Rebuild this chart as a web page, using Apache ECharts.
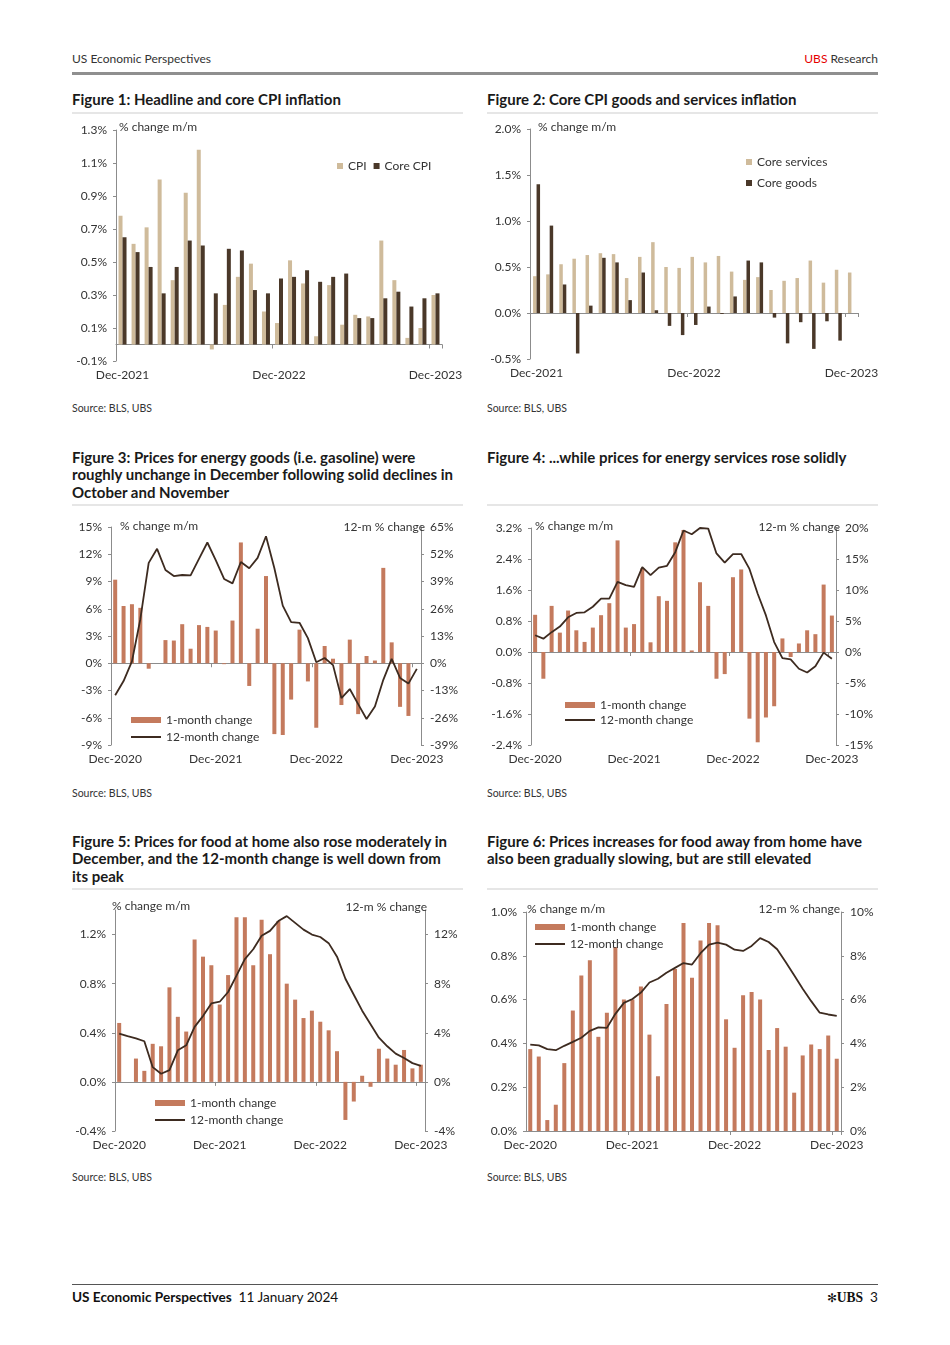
<!DOCTYPE html>
<html>
<head>
<meta charset="utf-8">
<script src="https://cdn.jsdelivr.net/npm/echarts@6/dist/echarts.min.js"></script>
<style>
  html, body { margin:0; padding:0; background:#fff; }
  body { width:950px; height:1345px; position:relative; font-family:Lato, 'Noto Sans', sans-serif; color:#222; overflow:hidden; }
  .abs { position:absolute; }
  .hdr { font-size:12px; line-height:16px; color:#333; }
  .title { font-weight:bold; font-size:15px; line-height:17.3px; color:#1a1a1a; width:400px; white-space:nowrap; }
  .uline { height:2px; background:#e6e6e6; width:391px; }
  .src { font-size:10.5px; line-height:14px; color:#333; }
  .chart { width:410px; }
</style>
</head>
<body>
<div class="abs hdr" style="left:72px;top:51px;">US Economic Perspectives</div>
<div class="abs hdr" style="right:72px;top:51px;"><span style="color:#e60000">UBS</span> Research</div>
<div class="abs" style="left:72px;top:72px;width:806px;height:3px;background:#8f8f8f;"></div>

<div class="abs title" style="left:72px;top:91px;">Figure 1: Headline and core CPI inflation</div>
<div class="abs title" style="left:487px;top:91px;">Figure 2: Core CPI goods and services inflation</div>
<div class="abs uline" style="left:72px;top:112px;"></div>
<div class="abs uline" style="left:487px;top:112px;"></div>
<div id="c1" class="abs chart" style="left:60px;top:115px;height:280px;"></div>
<div id="c2" class="abs chart" style="left:475px;top:115px;height:280px;"></div>
<div class="abs src" style="left:72px;top:401px;">Source: BLS, UBS</div>
<div class="abs src" style="left:487px;top:401px;">Source: BLS, UBS</div>

<div class="abs title" style="left:72px;top:449px;">Figure 3: Prices for energy goods (i.e. gasoline) were<br>roughly unchange in December following solid declines in<br>October and November</div>
<div class="abs title" style="left:487px;top:449px;">Figure 4: ...while prices for energy services rose solidly</div>
<div class="abs uline" style="left:72px;top:504px;"></div>
<div class="abs uline" style="left:487px;top:504px;"></div>
<div id="c3" class="abs chart" style="left:60px;top:515px;height:260px;"></div>
<div id="c4" class="abs chart" style="left:475px;top:515px;height:260px;"></div>
<div class="abs src" style="left:72px;top:786px;">Source: BLS, UBS</div>
<div class="abs src" style="left:487px;top:786px;">Source: BLS, UBS</div>

<div class="abs title" style="left:72px;top:833px;">Figure 5: Prices for food at home also rose moderately in<br>December, and the 12-month change is well down from<br>its peak</div>
<div class="abs title" style="left:487px;top:833px;">Figure 6: Prices increases for food away from home have<br>also been gradually slowing, but are still elevated</div>
<div class="abs uline" style="left:72px;top:888px;"></div>
<div class="abs uline" style="left:487px;top:888px;"></div>
<div id="c5" class="abs chart" style="left:60px;top:895px;height:260px;"></div>
<div id="c6" class="abs chart" style="left:475px;top:895px;height:260px;"></div>
<div class="abs src" style="left:72px;top:1170px;">Source: BLS, UBS</div>
<div class="abs src" style="left:487px;top:1170px;">Source: BLS, UBS</div>

<div class="abs" style="left:72px;top:1284px;width:806px;height:1px;background:#555;"></div>
<div class="abs" style="left:72px;top:1289px;font-size:13.6px;line-height:16px;color:#111;"><b>US Economic Perspectives</b>&nbsp; 11 January 2024</div>
<div class="abs" style="right:72px;top:1289px;font-size:13.6px;line-height:16px;color:#111;"><span style="font-size:12px;">&#10043;</span><span style="font-family:'Liberation Serif',serif;font-weight:bold;">UBS</span>&nbsp; 3</div>

<script>
// ---------- DATA ----------
const months2021_2023 = ['Dec-2021','Jan-2022','Feb-2022','Mar-2022','Apr-2022','May-2022','Jun-2022','Jul-2022','Aug-2022','Sep-2022','Oct-2022','Nov-2022','Dec-2022','Jan-2023','Feb-2023','Mar-2023','Apr-2023','May-2023','Jun-2023','Jul-2023','Aug-2023','Sep-2023','Oct-2023','Nov-2023','Dec-2023'];
const months2020_2023 = ['Dec-2020','Jan-2021','Feb-2021','Mar-2021','Apr-2021','May-2021','Jun-2021','Jul-2021','Aug-2021','Sep-2021','Oct-2021','Nov-2021','Dec-2021','Jan-2022','Feb-2022','Mar-2022','Apr-2022','May-2022','Jun-2022','Jul-2022','Aug-2022','Sep-2022','Oct-2022','Nov-2022','Dec-2022','Jan-2023','Feb-2023','Mar-2023','Apr-2023','May-2023','Jun-2023','Jul-2023','Aug-2023','Sep-2023','Oct-2023','Nov-2023','Dec-2023'];

// Figure 1 (% m/m)
const fig1CPI  = [0.78,0.61,0.71,1.00,0.39,0.92,1.18,-0.03,0.24,0.41,0.49,0.20,0.13,0.51,0.37,0.05,0.36,0.12,0.18,0.17,0.63,0.39,0.04,0.10,0.30];
const fig1Core = [0.65,0.56,0.47,0.31,0.47,0.63,0.60,0.31,0.58,0.57,0.33,0.31,0.40,0.41,0.45,0.38,0.41,0.43,0.16,0.16,0.28,0.32,0.23,0.28,0.31];
// Figure 2 (% m/m)
const fig2Services = [0.40,0.42,0.53,0.59,0.63,0.65,0.64,0.38,0.61,0.77,0.50,0.49,0.61,0.55,0.62,0.45,0.36,0.39,0.25,0.35,0.38,0.57,0.33,0.47,0.44];
const fig2Goods    = [1.40,0.95,0.31,-0.44,0.08,0.60,0.55,0.14,0.44,0.03,-0.14,-0.24,-0.13,0.07,-0.01,0.18,0.57,0.55,-0.05,-0.33,-0.10,-0.39,-0.09,-0.30,0.00];
// Figure 3 energy goods
const fig3Month = [9.2,6.3,6.5,6.1,-0.6,0.0,2.55,2.5,4.3,1.6,4.2,4.0,3.6,-0.1,4.7,13.3,-2.5,3.8,9.6,-7.8,-7.9,-4.0,3.7,-2.0,-7.1,1.9,0.5,-4.6,2.6,-5.6,0.8,0.3,10.5,2.3,-4.8,-5.8,0.0];
const fig3Year  = [-15.3,-8.5,0.9,21.0,47.9,54.6,44.5,41.6,42.1,41.9,49.8,57.6,49.2,40.2,38.1,48.3,45.3,50.3,60.6,45.3,27.5,19.6,19.3,12.0,0.5,2.5,-0.9,-16.6,-12.3,-19.5,-26.6,-20.6,-7.9,2.1,-7.0,-9.7,-2.7];
// Figure 4 energy services
const fig4Month = [0.96,-0.69,1.19,0.50,1.07,0.56,0.26,0.63,0.95,1.26,2.88,0.63,0.72,2.16,0.25,1.44,1.32,2.83,3.15,0.04,1.80,1.19,-0.69,-0.57,1.93,2.13,-1.72,-2.33,-1.69,-1.40,0.35,-0.13,0.22,0.56,0.46,1.74,0.94];
const fig4Year  = [2.7,2.15,3.2,4.1,5.6,6.3,6.4,7.3,8.6,8.6,11.3,10.8,10.5,13.7,12.4,13.6,13.9,16.1,19.6,19.0,20.0,19.9,15.9,14.4,15.8,15.8,13.4,9.4,5.9,1.6,-1.0,-1.2,-2.7,-3.3,-2.3,-0.1,-1.1];
// Figure 5 food at home
const fig5Month = [0.48,0.00,0.19,0.09,0.31,0.29,0.77,0.53,0.41,1.16,1.02,0.95,0.63,0.87,1.34,1.34,0.95,1.32,1.04,1.31,0.80,0.67,0.52,0.58,0.49,0.42,0.25,-0.31,-0.16,0.05,-0.04,0.27,0.19,0.14,0.26,0.11,0.14];
const fig5Year  = [3.93,3.72,3.55,3.31,1.20,0.66,0.96,2.57,2.98,4.48,5.36,6.39,6.53,7.32,8.66,10.0,10.8,11.9,12.3,13.1,13.5,12.95,12.4,12.0,11.8,11.3,10.2,8.4,7.1,5.8,4.7,3.6,2.9,2.3,1.94,1.53,1.31];
// Figure 6 food away from home
const fig6Month = [0.374,0.34,0.05,0.12,0.31,0.55,0.71,0.78,0.43,0.54,0.84,0.60,0.60,0.66,0.44,0.25,0.58,0.74,0.95,0.70,0.87,0.95,0.94,0.51,0.38,0.62,0.635,0.60,0.37,0.47,0.385,0.175,0.345,0.395,0.374,0.436,0.33];
const fig6Year  = [3.94,3.91,3.74,3.69,3.89,4.07,4.26,4.57,4.73,4.71,5.35,5.85,6.03,6.32,6.78,6.95,7.23,7.45,7.67,7.60,8.12,8.51,8.60,8.51,8.28,8.22,8.45,8.81,8.63,8.30,7.72,7.11,6.50,5.93,5.40,5.32,5.26];

// ---------- STYLE ----------
const FONT = 'Lato';
const TXT = '#333333';
const AX = '#8c8c8c';
const TAN = '#cfbb9b';
const DARK = '#4a3829';
const TERRA = '#c47a5d';
const LINE = '#3d2b20';

function fmt1(v){ return (Math.round(v*10)/10).toFixed(1) + '%'; }
function fmt0(v){ return Math.round(v) + '%'; }

function xAxes(cats){
  const lab = (i) => i % 12 === 0;
  return [
    { type:'category', data:cats, position:'bottom', boundaryGap:true,
      axisLine:{show:false, onZero:false}, axisTick:{show:false}, splitLine:{show:false},
      axisLabel:{interval:lab, color:TXT, fontSize:12, fontFamily:FONT, margin:8, hideOverlap:false} },
    { type:'category', data:cats, position:'bottom', boundaryGap:true,
      axisLine:{show:true, onZero:true, onZeroAxisIndex:0, lineStyle:{color:AX, width:1}},
      axisTick:{show:true, interval:(i)=> i % 12 === 0 && i > 0, length:4, lineStyle:{color:AX}},
      axisLabel:{show:false}, splitLine:{show:false} }
  ];
}
function yAxis(min, max, interval, fmt, pos, extra){
  return Object.assign({ type:'value', min, max, interval, position:pos,
    axisLine:{show:true, lineStyle:{color:AX}}, axisTick:{show:true, length:3, lineStyle:{color:AX}},
    splitLine:{show:false},
    axisLabel:{formatter:fmt, color:TXT, fontSize:12, fontFamily:FONT, margin:9} }, extra || {});
}
function txt(t, pos){
  return Object.assign({ type:'text', z:10, style:{ text:t, fill:TXT, font:'12px Lato' } }, pos);
}
const legendText = { color:TXT, fontSize:12, fontFamily:FONT };

function make(id, opt){
  const c = echarts.init(document.getElementById(id), null, {renderer:'canvas'});
  opt.animation = false;
  c.setOption(opt);
}

// Figure 1
make('c1', {
  grid:{left:56, right:28, top:15, bottom:34, outerBoundsMode:'none'},
  xAxis: xAxes(months2021_2023),
  yAxis: yAxis(-0.1, 1.3, 0.2, fmt1, 'left'),
  legend:{ data:['CPI','Core CPI'], left:272, top:40, icon:'rect', itemWidth:6, itemHeight:6, itemGap:7, textStyle:legendText },
  graphic:[ txt('% change m/m', {left:59, top:6}) ],
  series:[
    { name:'CPI', type:'bar', data:fig1CPI, barWidth:4, barGap:'0%', itemStyle:{color:TAN} },
    { name:'Core CPI', type:'bar', data:fig1Core, barWidth:4, barGap:'0%', itemStyle:{color:DARK} }
  ]
});

// Figure 2
make('c2', {
  grid:{left:55, right:27, top:14, bottom:36, outerBoundsMode:'none'},
  xAxis: xAxes(months2021_2023),
  yAxis: yAxis(-0.5, 2.0, 0.5, fmt1, 'left'),
  legend:{ data:['Core services','Core goods'], orient:'vertical', left:266, top:36, icon:'rect', itemWidth:6, itemHeight:6, itemGap:9, textStyle:legendText },
  graphic:[ txt('% change m/m', {left:63, top:6}) ],
  series:[
    { name:'Core services', type:'bar', data:fig2Services, barWidth:3.5, barGap:'0%', itemStyle:{color:TAN} },
    { name:'Core goods', type:'bar', data:fig2Goods, barWidth:3.5, barGap:'0%', itemStyle:{color:DARK} }
  ]
});

function dual(id, grid, cats, m, y, lAx, rAx, legendPos, labels){
  make(id, {
    grid: Object.assign({outerBoundsMode:'none'}, grid),
    xAxis: xAxes(cats),
    yAxis: [ yAxis(lAx[0], lAx[1], lAx[2], lAx[3], 'left', lAx[4]),
             yAxis(rAx[0], rAx[1], rAx[2], rAx[3], 'right', rAx[4]) ],
    legend: Object.assign({ data:[{name:'1-month change', icon:'rect'}, {name:'12-month change', itemStyle:{opacity:0}}], orient:'vertical',
      itemWidth:30, itemHeight:6, itemGap:5, textStyle:legendText }, legendPos),
    graphic: labels,
    series:[
      { name:'1-month change', type:'bar', data:m, barWidth:4, yAxisIndex:0, itemStyle:{color:TERRA} },
      { name:'12-month change', type:'line', data:y, yAxisIndex:1, symbol:'none', showSymbol:false,
        lineStyle:{color:LINE, width:1.8}, itemStyle:{color:LINE}, clip:false }
    ]
  });
}

// Figure 3
dual('c3', {left:51, right:49, top:12, bottom:30}, months2020_2023, fig3Month, fig3Year,
  [-9, 15, 3, fmt0], [-39, 65, 13, fmt0], {left:65, top:194},
  [ txt('% change m/m', {left:60, top:5}), txt('12-m % change', {right:45, top:6}) ]);

// Figure 4
dual('c4', {left:56, right:49, top:13, bottom:30}, months2020_2023, fig4Month, fig4Year,
  [-2.4, 3.2, 0.8, fmt1], [-15, 20, 5, fmt0], {left:84, top:179, itemGap:3},
  [ txt('% change m/m', {left:60, top:5}), txt('12-m % change', {right:45, top:6}) ]);

// Figure 5
dual('c5', {left:55, right:45, top:15, bottom:24}, months2020_2023, fig5Month, fig5Year,
  [-0.4, 1.4, 0.4, fmt1, {axisLabel:{formatter:fmt1, color:TXT, fontSize:12, fontFamily:FONT, margin:9, showMaxLabel:false}}],
  [-4, 14, 4, fmt0, {axisLabel:{formatter:fmt0, color:TXT, fontSize:12, fontFamily:FONT, margin:9, showMaxLabel:false}}],
  {left:89, top:197},
  [ txt('% change m/m', {left:52, top:5}), txt('12-m % change', {right:43, top:6}) ]);

// Figure 6
dual('c6', {left:51, right:44, top:17, bottom:24}, months2020_2023, fig6Month, fig6Year,
  [0, 1.0, 0.2, fmt1], [0, 10, 2, fmt0], {left:54, top:21},
  [ txt('% change m/m', {left:52, top:8}), txt('12-m % change', {right:45, top:8}) ]);
</script>
</body>
</html>
